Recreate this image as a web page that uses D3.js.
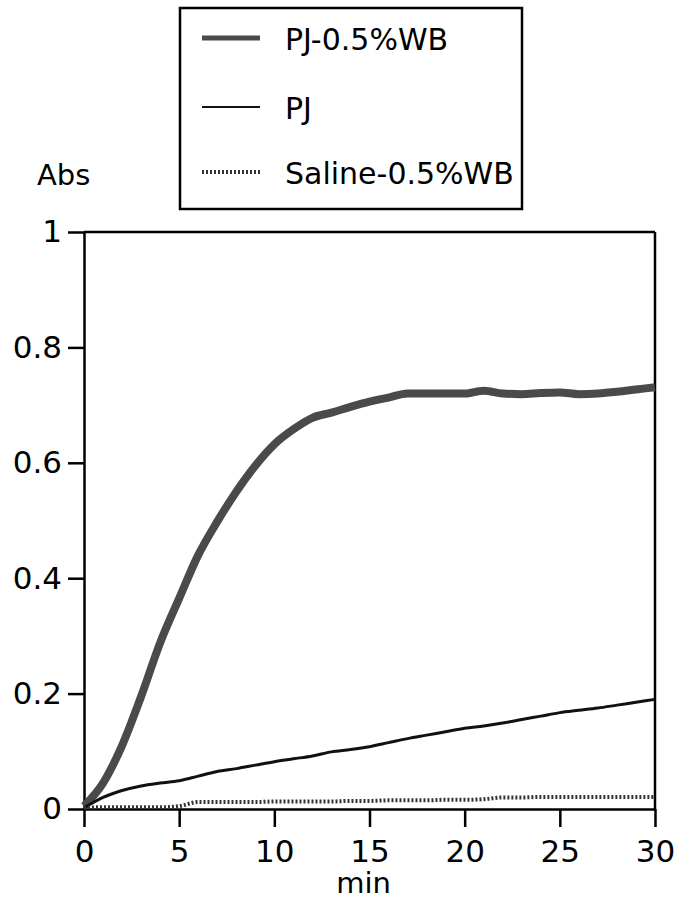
<!DOCTYPE html>
<html>
<head>
<meta charset="utf-8">
<script src="https://cdn.jsdelivr.net/npm/d3@7"></script>
<style>
  body { margin: 0; background: #fff; }
  svg { display: block; font-family: "DejaVu Sans", sans-serif; }
</style>
</head>
<body>
<svg></svg>
<script>
// Setting
const width = 676;
const height = 902;

// Data
const minutes = [0,1,2,3,4,5,6,7,8,9,10,11,12,13,14,15,16,17,18,19,20,21,22,23,24,25,26,27,28,29,30];
const pjWB = [0.005,0.045,0.11,0.195,0.288,0.365,0.44,0.498,0.55,0.595,0.632,0.658,0.678,0.687,0.697,0.706,0.713,0.72,0.72,0.72,0.72,0.725,0.72,0.719,0.721,0.722,0.719,0.72,0.723,0.727,0.731];
const pj = [0.002,0.02,0.032,0.04,0.045,0.049,0.057,0.065,0.07,0.076,0.082,0.087,0.092,0.099,0.103,0.108,0.115,0.122,0.128,0.134,0.14,0.144,0.149,0.155,0.161,0.167,0.171,0.175,0.18,0.185,0.19];
const saline = [0.002,0.003,0.003,0.003,0.003,0.005,0.012,0.012,0.012,0.012,0.013,0.013,0.013,0.013,0.014,0.014,0.015,0.015,0.015,0.016,0.016,0.017,0.02,0.02,0.021,0.021,0.021,0.021,0.021,0.021,0.021];

const seriesNames = ["PJ-0.5%WB", "PJ", "Saline-0.5%WB"];
const xTicks = [0, 5, 10, 15, 20, 25, 30];
const yTicks = [0, 0.2, 0.4, 0.6, 0.8, 1];
const yTickLabels = ["0", "0.2", "0.4", "0.6", "0.8", "1"];

const styles = [
  {stroke: "#4a4a4a", width: 8, dash: null},
  {stroke: "#111", width: 3, dash: null},
  {stroke: "#333", width: 4, dash: "2,2"}
];

const svg = d3.select("svg")
  .attr("width", width)
  .attr("height", height);

const x = d3.scaleLinear().domain([0, 30]).range([84, 655]);
const y = d3.scaleLinear().domain([0, 1]).range([809, 232]);

// frame: top and right
svg.append("line")
  .attr("x1", x(0)).attr("x2", x(30))
  .attr("y1", y(1)).attr("y2", y(1))
  .attr("stroke", "#000").attr("stroke-width", 2.5);
svg.append("line")
  .attr("x1", x(30)).attr("x2", x(30))
  .attr("y1", y(1)).attr("y2", y(0))
  .attr("stroke", "#000").attr("stroke-width", 2.5);

// axes
const xAxis = svg.append("g")
  .attr("transform", `translate(0,${y(0)})`)
  .call(d3.axisBottom(x).tickValues(xTicks).tickSize(18).tickSizeOuter(0).tickPadding(13));

const yAxis = svg.append("g")
  .attr("transform", `translate(${x(0)},0)`)
  .call(d3.axisLeft(y).tickValues(yTicks).tickSize(16).tickSizeOuter(0).tickPadding(6)
    .tickFormat((d, i) => yTickLabels[i]));

[xAxis, yAxis].forEach(g => {
  g.select(".domain").attr("stroke", "#000").attr("stroke-width", 2.5);
  g.selectAll(".tick line").attr("stroke", "#000").attr("stroke-width", 2.5);
  g.selectAll(".tick text")
    .attr("fill", "#000")
    .style("font-size", "31px")
    .style("font-family", "DejaVu Sans, sans-serif");
});

svg.append("text")
  .attr("x", (x(0) + x(30)) / 2 - 6)
  .attr("y", 893)
  .attr("text-anchor", "middle")
  .style("font-size", "29px")
  .text("min");

svg.append("text")
  .attr("x", 37)
  .attr("y", 185)
  .style("font-size", "29px")
  .text("Abs");

// lines
const line = d3.line()
  .x((d, i) => x(minutes[i]))
  .y(d => y(d))
  .curve(d3.curveMonotoneX);

[pjWB, pj, saline].forEach((s, k) => {
  svg.append("path")
    .datum(s)
    .attr("d", line)
    .attr("fill", "none")
    .attr("stroke", styles[k].stroke)
    .attr("stroke-width", styles[k].width)
    .attr("stroke-dasharray", styles[k].dash)
    .attr("stroke-linejoin", "round");
});

// legend
const legend = svg.append("g");
legend.append("rect")
  .attr("x", 180).attr("y", 8)
  .attr("width", 342).attr("height", 201)
  .attr("fill", "#fff")
  .attr("stroke", "#000")
  .attr("stroke-width", 2.5);

const legendY = [38, 107, 172];
const legendWidth = [5, 2, 4];

seriesNames.forEach((name, i) => {
  legend.append("line")
    .attr("x1", 202).attr("x2", 260)
    .attr("y1", legendY[i]).attr("y2", legendY[i])
    .attr("stroke", styles[i].stroke)
    .attr("stroke-width", legendWidth[i])
    .attr("stroke-dasharray", styles[i].dash);
  legend.append("text")
    .attr("x", 285)
    .attr("y", legendY[i] + 12)
    .style("font-size", "30px")
    .text(name);
});
</script>
</body>
</html>
